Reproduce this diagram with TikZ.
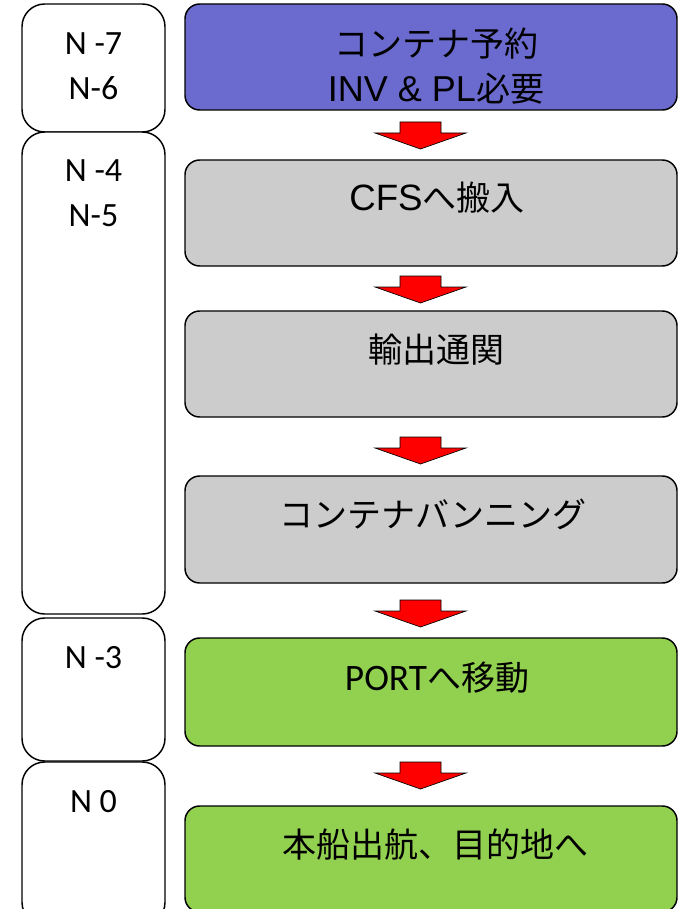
\documentclass[tikz,border=0pt]{standalone}
\usepackage{fontspec}
\setmainfont{Liberation Sans}
\newfontfamily\jpfont{Noto Sans CJK JP}
\newfontfamily\calfont{Carlito}
\newfontfamily\arifont{Liberation Sans}
\definecolor{boxpurple}{RGB}{107,107,207}
\definecolor{boxgray}{RGB}{204,204,204}
\definecolor{boxgreen}{RGB}{146,208,80}
\begin{document}
\begin{tikzpicture}[x=0.75pt,y=-0.75pt,
  lbox/.style={draw=black, line width=1.1pt, rounded corners=17pt, fill=white,
    minimum width=107.25pt, inner sep=0pt},
  rbox/.style={draw=black, line width=1.1pt, rounded corners=11pt,
    minimum width=369pt, minimum height=79.5pt, inner sep=0pt},
  lab/.style={font=\calfont\fontsize{25.5}{30}\selectfont, anchor=base, inner sep=0pt},
  jtxt/.style={font=\jpfont\fontsize{25.5}{30}\selectfont, anchor=base, inner sep=0pt},
  latin/.style={},
  arrowstyle/.style={draw=black, line width=0.5pt, fill=red, line join=miter},
  downarr/.pic={\draw[arrowstyle] (-20.5,0) -- (20.5,0) -- (20.5,11) -- (45.5,11)
     -- (0,27) -- (-45.5,11) -- (-20.5,11) -- cycle;}
]
\clip (0,0) rectangle (678,909);
\fill[white] (0,0) rectangle (678,909);

% left time boxes
\node[lbox, minimum height=96pt]     (L1) at (93.5,68) {};
\node[lbox, minimum height=361.5pt]  (L2) at (93.5,373) {};
\node[lbox, minimum height=107.25pt] (L3) at (93.5,689.5) {};
\node[lbox, minimum height=122.25pt] (L4) at (93.5,843.5) {};

\node[lab] (t1a) at (93.5,55)  {N -7};
\node[lab] (t1b) at (93.5,100) {N-6};
\node[lab] (t2a) at (93.5,182) {N -4};
\node[lab] (t2b) at (93.5,227) {N-5};
\node[lab] (t3)  at (93.5,668) {N -3};
\node[lab] (t4)  at (93.5,812) {N 0};

% right step boxes
\node[rbox, fill=boxpurple] (A) at (431,57) {};
\node[rbox, fill=boxgray]   (B) at (431,213) {};
\node[rbox, fill=boxgray]   (C) at (431,364) {};
\node[rbox, fill=boxgray, minimum height=80.25pt] (D) at (431,529.5) {};
\node[rbox, fill=boxgreen, minimum height=81pt]   (E) at (431,692) {};
\node[rbox, fill=boxgreen]  (F) at (431,859) {};

\node[jtxt] (sA1) at (436,57)  {コンテナ予約};
\node[jtxt] (sA2) at (436,102) {{\arifont\fontsize{27}{30}\selectfont INV \& PL}必要};
\node[jtxt] (sB)  at (437,210) {{\arifont\fontsize{27.5}{30}\selectfont CFS}へ搬入};
\node[jtxt] (sC)  at (436,362) {輸出通関};
\node[jtxt] (sD)  at (433,527) {コンテナバンニング};
\node[jtxt] (sE)  at (437,690) {{\calfont\fontsize{28}{30}\selectfont PORT}へ移動};
\node[jtxt] (sF)  at (435,857) {本船出航、目的地へ};

% block arrows
\pic (ar1) at (420.5,122) {downarr};
\pic (ar2) at (420.5,276) {downarr};
\pic (ar3) at (420.5,437) {downarr};
\pic (ar4) at (420.5,600) {downarr};
\pic (ar5) at (420.5,762) {downarr};
\end{tikzpicture}
\end{document}
